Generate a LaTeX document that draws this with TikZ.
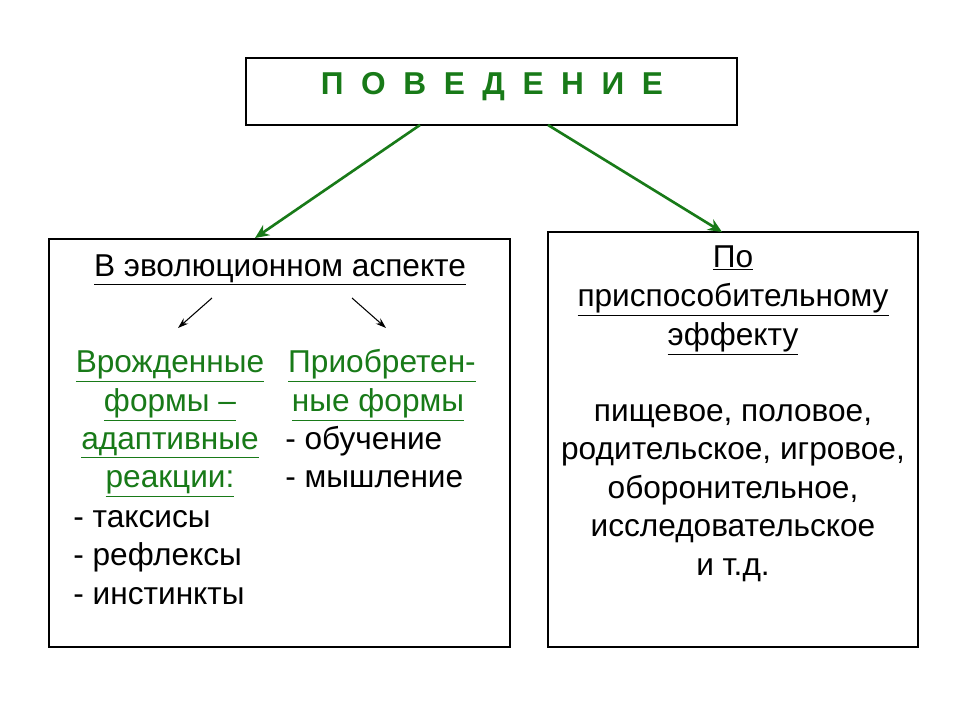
\documentclass[tikz,border=0pt]{standalone}
\usepackage{fontspec}
\setmainfont{Liberation Sans}
\usetikzlibrary{arrows.meta,
                positioning}
\definecolor{leaf}{RGB}{24,122,24}
\newcommand{\ul}[1]{\underline{#1}}

\begin{document}
\begin{tikzpicture}[x=0.02cm,y=-0.02cm,
                    Frame/.style={draw, line width=0.8pt},
                    Line/.style={font=\fontsize{18pt}{21pt}\selectfont, inner sep=0pt, anchor=base},
                    Green/.style={Line, text=leaf},
                    Leaf/.style={draw=leaf, line width=1.5pt, -{Stealth[length=8pt,width=7pt]}},
                    Thin/.style={draw, line width=0.6pt, -{Stealth[length=6pt,width=4pt]}}
                    ]
    \useasboundingbox (0,0) rectangle (960,720);

    % BOXES %
    \draw[Frame] (246,58) rectangle (737,125);
    \draw[Frame] (49,239) rectangle (510,647);
    \draw[Frame] (548,232) rectangle (918,647);
    \node[Green, font=\fontsize{18pt}{21pt}\selectfont\bfseries] (title) at (492,94)
        {П\hspace{10pt}О\hspace{10pt}В\hspace{10pt}Е\hspace{10pt}Д\hspace{10pt}Е\hspace{10pt}Н\hspace{10pt}И\hspace{10pt}Е};

    % MAIN ARROWS %
    \coordinate (tl) at (420,125);
    \coordinate (tr) at (548,125);
    \coordinate (ll) at (255,238);
    \coordinate (rr) at (722,232);
    \draw[Leaf] (tl) -- (ll);
    \draw[Leaf] (tr) -- (rr);

    % LEFT BOX %
    \node[Line] (evo) at (280,276) {\ul{В эволюционном аспекте}};
    \coordinate (a1) at (212,298);
    \coordinate (a2) at (178,328);
    \coordinate (b1) at (352,298);
    \coordinate (b2) at (386,328);
    \draw[Thin] (a1) -- (a2);
    \draw[Thin] (b1) -- (b2);

    \node[Green] (in1) at (170,372) {\ul{Врожденные}};
    \node[Green] (in2) at (170,411) {\ul{формы –}};
    \node[Green] (in3) at (170,449) {\ul{адаптивные}};
    \node[Green] (in4) at (170,487) {\ul{реакции:}};
    \node[Line, anchor=base west] (t1) at (73,527) {- таксисы};
    \node[Line, anchor=base west] (t2) at (73,565) {- рефлексы};
    \node[Line, anchor=base west] (t3) at (73,604) {- инстинкты};

    \node[Green] (ac1) at (382,372) {\ul{Приобретен-}};
    \node[Green] (ac2) at (378,411) {\ul{ные формы}};
    \node[Line, anchor=base west] (o1) at (285,449) {- обучение};
    \node[Line, anchor=base west] (o2) at (285,487) {- мышление};

    % RIGHT BOX %
    \node[Line] (r1) at (733,267) {\ul{По}};
    \node[Line] (r2) at (733,306) {\ul{приспособительному}};
    \node[Line] (r3) at (733,345) {\ul{эффекту}};
    \node[Line] (k1) at (733,421) {пищевое, половое,};
    \node[Line] (k2) at (733,459) {родительское, игровое,};
    \node[Line] (k3) at (733,498) {оборонительное,};
    \node[Line] (k4) at (733,536) {исследовательское};
    \node[Line] (k5) at (733,575) {и т.д.};
\end{tikzpicture}
\end{document}
